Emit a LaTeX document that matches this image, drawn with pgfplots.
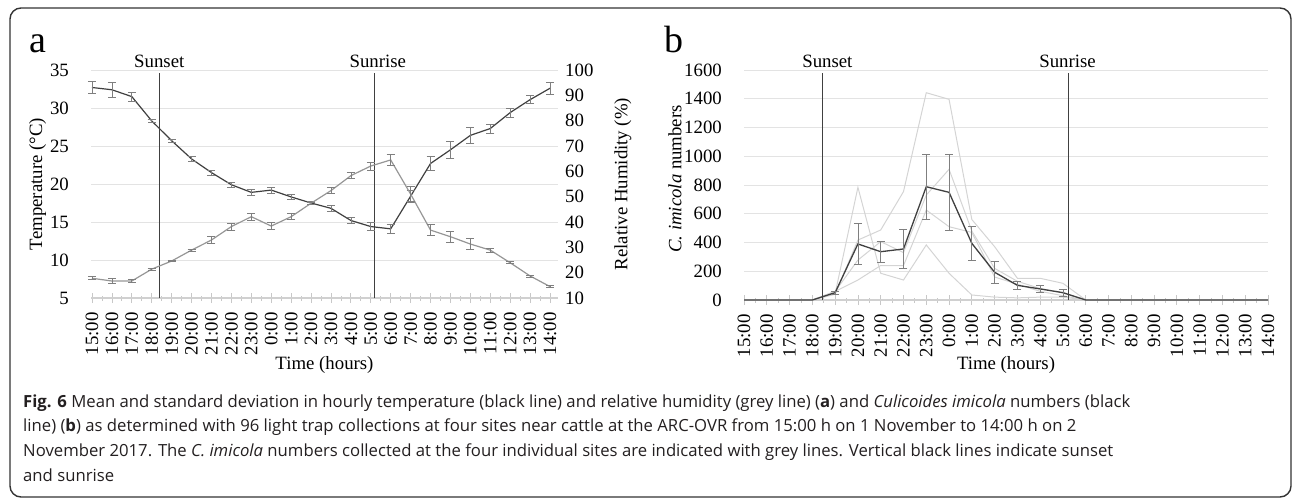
\documentclass[border=0pt]{standalone}
\usepackage{fontspec}
\setmainfont{Liberation Serif}
\newfontfamily\capfont{Open Sans}
\usepackage{pgfplots}
\usepackage{pgfplotstable}
\pgfplotsset{compat=1.18}
\definecolor{ctemp}{HTML}{404040}
\definecolor{chum}{HTML}{969696}
\definecolor{cerr}{HTML}{7F7F7F}
\definecolor{csite}{HTML}{D4D4D4}
\definecolor{cgrid}{HTML}{E3E3E3}
\definecolor{caxis}{HTML}{D0D0D0}
\definecolor{ctick}{HTML}{C8C8C8}
\definecolor{cvert}{HTML}{404040}
\definecolor{cframe}{HTML}{333333}
\definecolor{ccap}{HTML}{231F20}
\newcommand{\cf}{\fontsize{18.8bp}{21bp}\selectfont}
\newcommand{\capf}{\capfont\fontsize{16.7bp}{19bp}\selectfont}

\pgfplotstableread{
x t te h he
0 32.7 0.8 17.8 0.6
1 32.4 1.0 16.7 1.0
2 31.5 0.6 16.7 0.6
3 28.3 0.2 21.4 0.4
4 25.7 0.2 24.6 0.3
5 23.3 0.3 28.9 0.5
6 21.5 0.3 32.9 1.3
7 19.9 0.3 38.2 1.3
8 18.9 0.4 42.1 1.45
9 19.2 0.4 38.4 1.45
10 18.3 0.3 42.1 1.2
11 17.5 0.2 47.4 0.5
12 16.8 0.4 52.4 1.1
13 15.2 0.44 58.3 1.25
14 14.4 0.53 62.1 1.6
15 14.1 0.6 64.5 2.2
16 18.4 0.8 51.0 3.0
17 22.7 0.9 36.8 2.2
18 24.5 1.1 34.2 2.3
19 26.4 1.1 31.3 2.2
20 27.3 0.57 28.9 0.7
21 29.4 0.6 23.9 0.4
22 31.1 0.5 18.7 0.4
23 32.6 0.77 14.5 0.4
}\tabA

\pgfplotstableread{
x m e s1 s2 s3 s4
0 0 0 0 0 0 0
1 0 0 0 0 0 0
2 0 0 0 0 0 0
3 0 0 0 0 0 0
4 51 10 40 45 60 60
5 390 140 417 784 278 139
6 336 72 487 186 406 240
7 355 135 754 139 330 239
8 788 227 1442 383 730 626
9 749 263 1396 186 909 510
10 394 118 560 35 480 470
11 193 75 371 20 220 160
12 102 28 151 15 130 110
13 77 26 151 20 80 60
14 51 23 116 20 50 30
15 0 0 0 0 0 0
16 0 0 0 0 0 0
17 0 0 0 0 0 0
18 0 0 0 0 0 0
19 0 0 0 0 0 0
20 0 0 0 0 0 0
21 0 0 0 0 0 0
22 0 0 0 0 0 0
23 0 0 0 0 0 0
}\tabB

\pgfplotsset{
  excel/.style={
    scale only axis, clip=false,
    axis x line*=bottom, axis y line*=left,
    x axis line style={draw=caxis, line width=1.2bp},
    y axis line style={draw=none},
    xtick={0,...,23},
    xticklabels={15:00,16:00,17:00,18:00,19:00,20:00,21:00,22:00,23:00,0:00,1:00,2:00,3:00,4:00,5:00,6:00,7:00,8:00,9:00,10:00,11:00,12:00,13:00,14:00},
    minor x tick num=1,
    tick align=center,
    major tick length=10bp, minor tick length=5bp,
    xtick style={draw=ctick, line width=0.8bp},
    minor tick style={draw=ctick, line width=0.8bp},
    ytick style={draw=none},
    ymajorgrids, grid style={draw=cgrid, line width=0.6bp},
    tick label style={font=\cf},
    label style={font=\cf},
    /pgf/number format/assume math mode=true,
    /pgf/number format/1000 sep={},
    xticklabel style={yshift=-9bp, rotate=90, anchor=east, inner sep=0pt},
    yticklabel style={anchor=east, inner sep=0pt, xshift=-17bp},
    every axis x label/.style={at={(axis description cs:0.5,0)}, anchor=base, font=\cf},
  },
  ebar/.style={error bars/.cd, y dir=both, y explicit,
    error bar style={draw=cerr, line width=0.7bp},
    error mark options={rotate=90, mark size=4bp, line width=0.7bp, draw=cerr}},
}

\begin{document}
\begin{tikzpicture}
\path[use as bounding box] (0,0) rectangle (1292bp,-498bp);
\draw[cframe, line width=1.4bp, rounded corners=11bp] (10bp,-8bp) rectangle (1291bp,-497bp);

% panel a
\begin{axis}[excel, at={(91bp,-298bp)}, anchor=south west,
  width=467bp, height=228bp, xmin=-0.05, xmax=23.4, ymin=5, ymax=35,
  ytick={5,10,...,35},
  ylabel={Temperature (°C)},
  every axis y label/.style={at={(axis description cs:0,0.5)}, xshift=-53.5bp, rotate=90, anchor=center, font=\cf},
  xlabel={Time (hours)},
  xlabel style={yshift=-71bp},
]
\addplot[cvert, line width=1bp] coordinates {(3.38,5) (3.38,34.6)};
\addplot[cvert, line width=1bp] coordinates {(14.2,5) (14.2,34.6)};
\addplot[ctemp, line width=1.2bp, mark=none, ebar] table[x=x, y=t, y error=te] {\tabA};
\node[font=\cf, anchor=base, inner sep=0pt] at (axis cs:3.38,35) [yshift=3bp] {Sunset};
\node[font=\cf, anchor=base, inner sep=0pt] at (axis cs:14.35,35) [yshift=3bp] {Sunrise};
\end{axis}
\begin{axis}[excel, at={(91bp,-298bp)}, anchor=south west,
  width=467bp, height=228bp, xmin=-0.05, xmax=23.4, ymin=10, ymax=100,
  ytick={10,20,...,100}, ymajorgrids=false,
  axis x line=none, axis y line*=right,
  yticklabel style={anchor=west, inner sep=0pt, xshift=19bp},
  ylabel={Relative Humidity (\%)},
  every axis y label/.style={at={(axis description cs:1,0.5)}, xshift=65bp, rotate=90, anchor=center, font=\cf},
]
\addplot[chum, line width=1.2bp, mark=none, ebar] table[x=x, y=h, y error=he] {\tabA};
\end{axis}

% panel b
\begin{axis}[excel, at={(744bp,-300bp)}, anchor=south west,
  width=524bp, height=230bp, xmin=0, xmax=23, ymin=0, ymax=1600,
  ytick={0,200,...,1600},
  ylabel={\textit{C. imicola} numbers},
  every axis y label/.style={at={(axis description cs:0,0.5)}, xshift=-69bp, yshift=6bp, rotate=90, anchor=center, font=\cf},
  xlabel={Time (hours)},
  xlabel style={yshift=-69bp},
]
\addplot[csite, line width=1bp, mark=none] table[x=x, y=s1] {\tabB};
\addplot[csite, line width=1bp, mark=none] table[x=x, y=s2] {\tabB};
\addplot[csite, line width=1bp, mark=none] table[x=x, y=s3] {\tabB};
\addplot[csite, line width=1bp, mark=none] table[x=x, y=s4] {\tabB};
\addplot[cvert, line width=1bp] coordinates {(3.46,0) (3.46,1580)};
\addplot[cvert, line width=1bp] coordinates {(14.24,0) (14.24,1580)};
\addplot[ctemp, line width=1.3bp, mark=none] table[x=x, y=m] {\tabB};
\addplot[draw=none, mark=none, restrict x to domain=4:14, ebar] table[x=x, y=m, y error=e] {\tabB};
\node[font=\cf, anchor=base, inner sep=0pt] at (axis cs:3.66,1600) [yshift=3bp] {Sunset};
\node[font=\cf, anchor=base, inner sep=0pt] at (axis cs:14.2,1600) [yshift=3bp] {Sunrise};
\end{axis}

% panel letters
\node[anchor=base west, inner sep=0pt, font=\fontsize{38bp}{40bp}\selectfont] at (29bp,-52bp) {a};
\node[anchor=base west, inner sep=0pt, font=\fontsize{38bp}{40bp}\selectfont] at (664bp,-52bp) {b};

% caption
\begin{scope}[every node/.style={anchor=base west, inner sep=0pt, font=\capf, text=ccap}]
\node at (23bp,-407bp) {\textbf{Fig. 6} Mean and standard deviation in hourly temperature (black line) and relative humidity (grey line) (\textbf{a}) and \textit{Culicoides imicola} numbers (black};
\node at (23bp,-431.7bp) {line) (\textbf{b}) as determined with 96 light trap collections at four sites near cattle at the ARC-OVR from 15:00 h on 1 November to 14:00 h on 2};
\node at (23bp,-456.3bp) {November 2017. The \textit{C. imicola} numbers collected at the four individual sites are indicated with grey lines. Vertical black lines indicate sunset};
\node at (23bp,-481bp) {and sunrise};
\end{scope}
\end{tikzpicture}
\end{document}
